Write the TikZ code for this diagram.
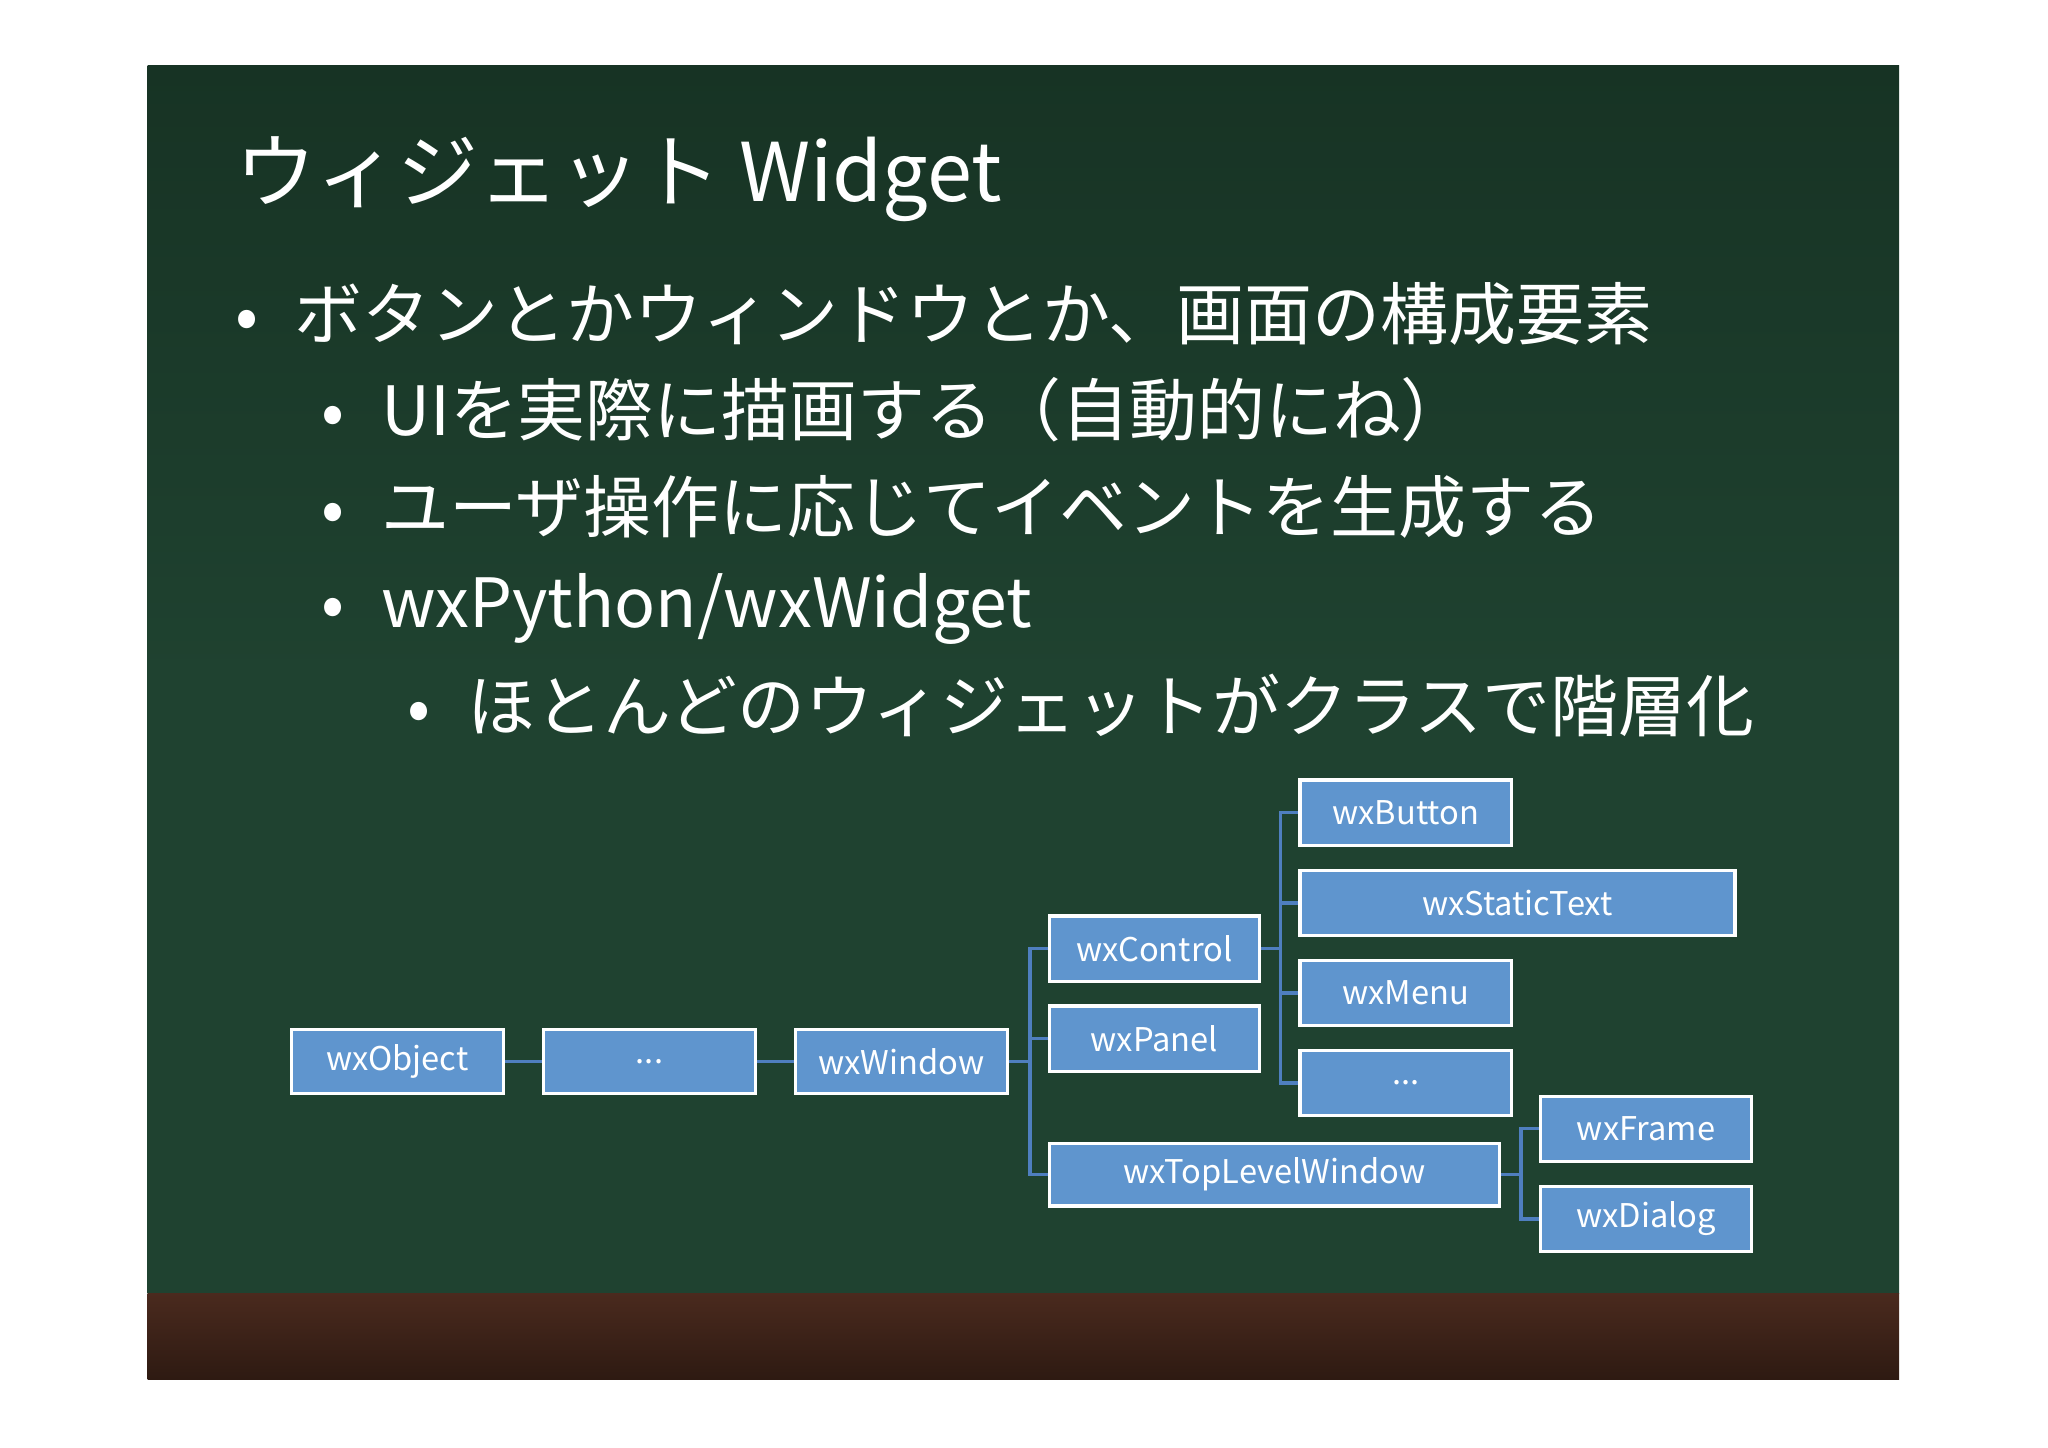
\documentclass[tikz,border=0pt]{standalone}
\usepackage{fontspec}
\setmainfont{Noto Sans CJK JP}
\definecolor{board}{HTML}{1F4230}
\definecolor{boarddark}{HTML}{173324}
\definecolor{wood}{HTML}{4A2A1E}
\definecolor{wooddark}{HTML}{2E1A12}
\definecolor{boxfill}{HTML}{5F95CE}
\definecolor{link}{HTML}{4F7FBF}
\begin{document}
\begin{tikzpicture}[x=1pt,y=-1pt,
  cls/.style={draw=white,line width=2.5pt,fill=boxfill,text=white,font=\fontsize{25}{28}\selectfont,inner sep=0pt,anchor=north west},
  lk/.style={draw=link,line width=2.5pt},
  txt/.style={text=white,anchor=west,inner sep=0pt},
  bl/.style={txt,font=\fontsize{52}{56}\selectfont}]
\useasboundingbox (0,0) rectangle (1568,1108);
\fill[white] (0,0) rectangle (1568,1108);
\shade[top color=boarddark,bottom color=board,middle color=board] (113,50) rectangle (1454,990);
\shade[top color=wood,bottom color=wooddark] (113,990) rectangle (1454,1056);
\node[txt,font=\fontsize{62}{66}\selectfont] (title) at (180,137) {ウィジェット Widget};
\node[bl] (b1) at (180,240) {•\hspace{28pt}ボタンとかウィンドウとか、画面の構成要素};
\node[bl] (b2) at (246,314) {•\hspace{28pt}UIを実際に描画する（自動的にね）};
\node[bl] (b3) at (246,388) {•\hspace{28pt}ユーザ操作に応じてイベントを生成する};
\node[bl] (b4) at (246,466) {•\hspace{28pt}wxPython/wxWidget};
\node[bl] (b5) at (312,540) {•\hspace{28pt}ほとんどのウィジェットがクラスで階層化};
% boxes
\node[cls,minimum width=162pt,minimum height=49pt] (obj) at (222,787) {wxObject};
\node[cls,minimum width=162pt,minimum height=49pt] (dots1) at (415,787) {...};
\node[cls,minimum width=162pt,minimum height=49pt] (win) at (608,787) {wxWindow};
\node[cls,minimum width=161pt,minimum height=50pt] (ctrl) at (802,700) {wxControl};
\node[cls,minimum width=161pt,minimum height=50pt] (panel) at (802,769) {wxPanel};
\node[cls,minimum width=345pt,minimum height=48pt] (tlw) at (802,874) {wxTopLevelWindow};
\node[cls,minimum width=162pt,minimum height=50pt] (btn) at (994,596) {wxButton};
\node[cls,minimum width=333pt,minimum height=50pt] (st) at (994,665) {wxStaticText};
\node[cls,minimum width=162pt,minimum height=50pt] (menu) at (994,734) {wxMenu};
\node[cls,minimum width=162pt,minimum height=50pt] (dots2) at (994,803) {...};
\node[cls,minimum width=162pt,minimum height=50pt] (frame) at (1178,838) {wxFrame};
\node[cls,minimum width=162pt,minimum height=50pt] (dlg) at (1178,907) {wxDialog};
% links
\draw[lk] (obj.east) -- (dots1.west);
\draw[lk] (dots1.east) -- (win.west);
\foreach \t in {ctrl,panel,tlw}{\draw[lk] (win.east) -- ++(16,0) |- (\t.west);}
\foreach \t in {btn,st,menu,dots2}{\draw[lk] (ctrl.east) -- ++(15,0) |- (\t.west);}
\foreach \t in {frame,dlg}{\draw[lk] (tlw.east) -- ++(15,0) |- (\t.west);}
\end{tikzpicture}
\end{document}
